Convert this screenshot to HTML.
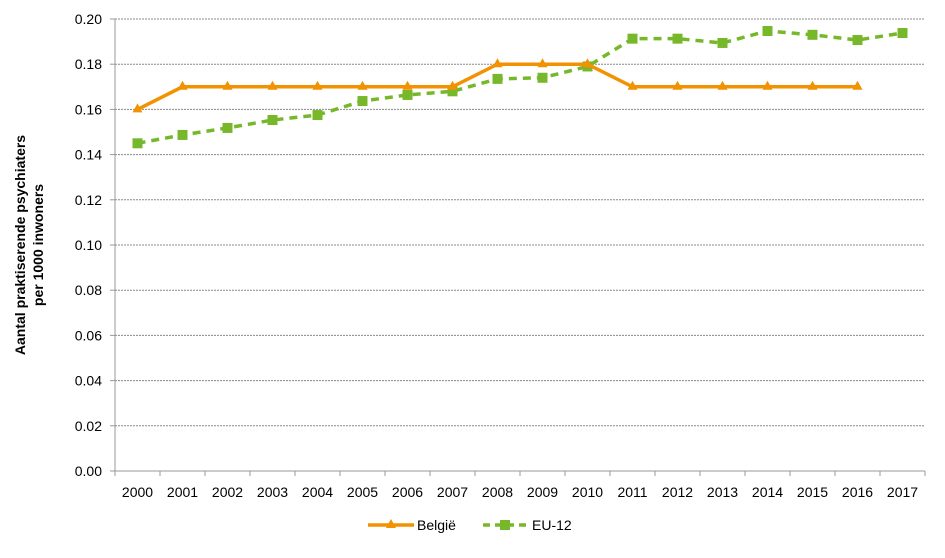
<!DOCTYPE html>
<html><head><meta charset="utf-8"><style>
body{margin:0;background:#fff;font-family:"Liberation Sans",Arial,sans-serif}
svg text{font-family:"Liberation Sans",Arial,sans-serif}
</style></head><body>
<svg id="chart" width="945" height="553">
<text transform="translate(25,245) rotate(-90)" text-anchor="middle" font-size="14" font-weight="bold" fill="#000"><tspan x="0" y="0">Aantal praktiserende psychiaters</tspan><tspan x="0" y="18">per 1000 inwoners</tspan></text>
<g>
<g><line x1="368" y1="525" x2="414" y2="525" stroke="#F39200" stroke-width="3.5"/><polygon points="391,519 396,528 386,528" fill="#F39200"/><text x="417" y="530" font-size="14">België</text></g>
<g><line x1="483" y1="525" x2="527" y2="525" stroke="#76B82A" stroke-width="3.5" stroke-dasharray="7,5"/><rect x="500" y="520" width="10" height="10" fill="#76B82A"/><text x="532" y="530" font-size="14">EU-12</text></g>
</g>
</svg>
<script>
const categories=["2000","2001","2002","2003","2004","2005","2006","2007","2008","2009","2010","2011","2012","2013","2014","2015","2016","2017"];
const belgie=[0.16,0.17,0.17,0.17,0.17,0.17,0.17,0.17,0.18,0.18,0.18,0.17,0.17,0.17,0.17,0.17,0.17,null];
const eu12=[0.145,0.1487,0.1518,0.1553,0.1575,0.1637,0.1664,0.168,0.1735,0.174,0.179,0.1913,0.1913,0.1894,0.1947,0.193,0.1907,0.1938];
const yTicks=[0,0.02,0.04,0.06,0.08,0.10,0.12,0.14,0.16,0.18,0.20];
const NS="http://www.w3.org/2000/svg";
const svg=document.getElementById('chart');
const L=115,R=925,T=19,B=471;
const bw=(R-L)/categories.length;
const x=i=>L+bw*(i+0.5);
const y=v=>B-(v/0.2)*(B-T);
function mk(t,a){const e=document.createElementNS(NS,t);for(const k in a)e.setAttribute(k,a[k]);svg.appendChild(e);return e;}
yTicks.forEach(v=>{
 if(v>0){const g=mk('line',{x1:L,x2:R,y1:y(v),y2:y(v),stroke:'#888','stroke-width':1,'stroke-dasharray':'2,1'});
 
 }
 const t=mk('text',{x:L-13,y:y(v)+5,'text-anchor':'end','font-size':14});t.textContent=v.toFixed(2);
 
 
 mk('line',{x1:L-5,x2:L,y1:y(v),y2:y(v),stroke:'#999'});
});
const ax=mk('line',{x1:L,x2:L,y1:T,y2:B,stroke:'#999'});


const xa=mk('line',{x1:L,x2:R,y1:B,y2:B,stroke:'#999'});


categories.forEach((c,i)=>{
 mk('line',{x1:L+bw*i,x2:L+bw*i,y1:B,y2:B+5,stroke:'#999'});
 const t=mk('text',{x:x(i),y:B+26,'text-anchor':'middle','font-size':14});t.textContent=c;
 
 
});
mk('line',{x1:R,x2:R,y1:B,y2:B+5,stroke:'#999'});
function series(data,color,dash,marker,name){
 const pts=[];data.forEach((v,i)=>{if(v!=null)pts.push([x(i),y(v)]);});
 const p=mk('polyline',{points:pts.map(p=>p.join(',')).join(' '),fill:'none',stroke:color,'stroke-width':3.5,'stroke-dasharray':dash});
 
 
 pts.forEach(([px,py])=>{
  let m;
  if(marker==='tri')m=mk('polygon',{points:`${px},${py-6} ${px+5},${py+3} ${px-5},${py+3}`,fill:color});
  else m=mk('rect',{x:px-5,y:py-5,width:10,height:10,fill:color});
  
  
 });
}
series(eu12,'#76B82A','8,6','sq','eu12');
series(belgie,'#F39200','none','tri','belgie');
</script>
</body></html>
